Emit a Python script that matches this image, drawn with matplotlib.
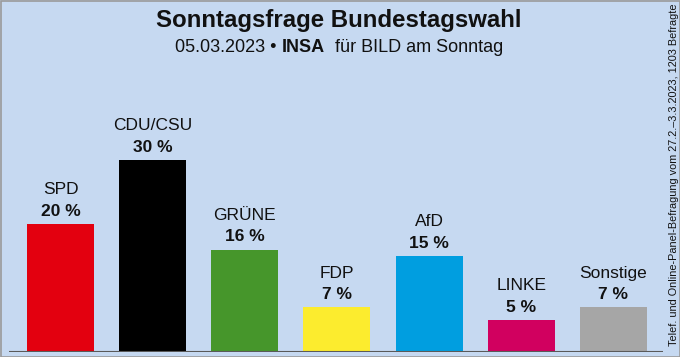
import matplotlib
matplotlib.use("Agg")
import matplotlib.pyplot as plt
from matplotlib.patches import Rectangle

parties = ["SPD", "CDU/CSU", "GRÜNE", "FDP", "AfD", "LINKE", "Sonstige"]
values = [20, 30, 16, 7, 15, 5, 7]
colors = ["#e3000f", "#000000", "#46962b", "#fcec2e", "#009ee0", "#d1005f", "#a6a6a6"]
value_labels = ["20 %", "30 %", "16 %", "7 %", "15 %", "5 %", "7 %"]

title = "Sonntagsfrage Bundestagswahl"
sub_parts = [("05.03.2023 • ", "normal"), ("INSA", "bold"), ("  für BILD am Sonntag", "normal")]
side_note = "Telef. und Online-Panel-Befragung vom 27.2.–3.3.2023, 1203 Befragte"

plt.rcParams['font.family'] = ['Liberation Sans', 'DejaVu Sans']
bg = "#c6d9f1"
W, H = 680, 357
fig = plt.figure(figsize=(6.8, 3.57), dpi=100)
fig.patch.set_facecolor(bg)

ax = fig.add_axes([9 / W, 5 / H, 654 / W, 240 / H])
ax.set_facecolor("none")
x = list(range(len(parties)))
ax.bar(x, values, width=0.727, color=colors, zorder=2)
ax.set_xlim(-0.56, 6.54)
ax.set_ylim(0, 240 / 6.4)
for s in ax.spines.values():
    s.set_visible(False)
ax.axhline(0, color="#5a5a5a", lw=1.5, zorder=3)
ax.set_xticks([])
ax.set_yticks([])

for xi, v, p, lab in zip(x, values, parties, value_labels):
    ax.annotate(lab, (xi, v), xytext=(0, 13), textcoords="offset pixels",
                ha="center", va="center", fontsize=12.5, fontweight="bold", color="#111111")
    ax.annotate(p, (xi, v), xytext=(0, 34), textcoords="offset pixels",
                ha="center", va="center", fontsize=12.5, color="#111111")

fig.text(339 / W, 1 - 20 / H, title, ha="center", va="center", fontsize=17.3,
         fontweight="bold", color="#111111")

# subtitle with mixed weights
renderer = fig.canvas.get_renderer()
texts = []
for s, w in sub_parts:
    t = fig.text(0, 1 - 47 / H, s, ha="left", va="center", fontsize=13, fontweight=w, color="#111111")
    texts.append(t)
widths = [t.get_window_extent(renderer).width for t in texts]
total = sum(widths)
xpos = 339 - total / 2
for t, w in zip(texts, widths):
    t.set_x(xpos / W)
    xpos += w

fig.text(674 / W, 1 - 175 / H, side_note, rotation=90, ha="center", va="center",
         fontsize=7.8, color="#111111")

fig.patches.append(Rectangle((0.5 / W, 0.5 / H), 1 - 1 / W, 1 - 1 / H, transform=fig.transFigure,
                             fill=False, edgecolor="#9a9a9a", lw=1.2))

fig.savefig("out.png", dpi=100, facecolor=bg)
